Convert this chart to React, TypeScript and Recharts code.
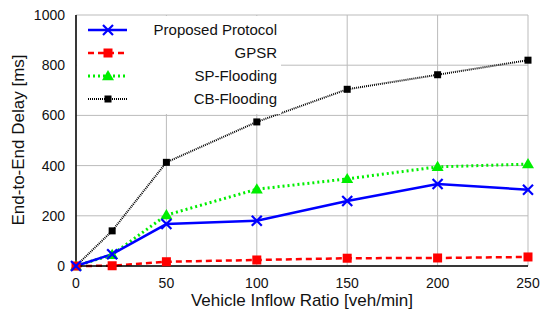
import { LineChart, Line, XAxis, YAxis, CartesianGrid } from 'recharts';

// Vehicle inflow ratio [veh/min]
const inflow = [0, 20, 50, 100, 150, 200, 250];
// End-to-end delay [ms]
const proposed = [0, 47, 167, 180, 259, 327, 304];
const gpsr = [0, 1, 17, 24, 31, 32, 36];
const spFlooding = [0, 45, 203, 306, 347, 395, 406];
const cbFlooding = [0, 140, 413, 574, 704, 762, 820];

const xTicks = [0, 50, 100, 150, 200, 250];
const yTicks = [0, 200, 400, 600, 800, 1000];

const data = inflow.map((x, i) => ({
  x,
  proposed: proposed[i],
  gpsr: gpsr[i],
  sp: spFlooding[i],
  cb: cbFlooding[i],
}));

const font = '"Liberation Sans", Arial, Helvetica, sans-serif';

const CrossDot = (props: any) => {
  const { cx, cy } = props;
  if (cx == null || cy == null) return null;
  const s = 5;
  return (
    <g stroke="#0000ff" strokeWidth={2.2}>
      <line x1={cx - s} y1={cy - s} x2={cx + s} y2={cy + s} />
      <line x1={cx - s} y1={cy + s} x2={cx + s} y2={cy - s} />
    </g>
  );
};

const SquareDot = (color: string, s: number) => (props: any) => {
  const { cx, cy } = props;
  if (cx == null || cy == null) return null;
  return <rect x={cx - s} y={cy - s} width={2 * s} height={2 * s} fill={color} />;
};

const TriDot = (props: any) => {
  const { cx, cy } = props;
  if (cx == null || cy == null) return null;
  const s = 6;
  return <polygon points={`${cx},${cy - s} ${cx + s},${cy + s * 0.7} ${cx - s},${cy + s * 0.7}`} fill="#00ee00" />;
};

const legendRows = [
  { name: 'Proposed Protocol', color: '#0000ff', dash: undefined, width: 2.5, marker: 'x' },
  { name: 'GPSR', color: '#ff0000', dash: '6 4', width: 2.5, marker: 'sq' },
  { name: 'SP-Flooding', color: '#00ee00', dash: '2 3', width: 3, marker: 'tri' },
  { name: 'CB-Flooding', color: '#000000', dash: '1 1', width: 2, marker: 'sm' },
];

const LegendBox = () => (
  <svg width={204} height={98} style={{ display: 'block', background: '#fff' }}>
    {legendRows.map((r, i) => {
      const y = 14 + i * 23;
      const cx = 31;
      return (
        <g key={r.name}>
          <line x1={11} y1={y} x2={50} y2={y} stroke={r.color} strokeWidth={r.width} strokeDasharray={r.dash} />
          {r.marker === 'x' && CrossDot({ cx, cy: y })}
          {r.marker === 'sq' && SquareDot('#ff0000', 4.5)({ cx, cy: y })}
          {r.marker === 'tri' && TriDot({ cx, cy: y })}
          {r.marker === 'sm' && SquareDot('#000000', 3.5)({ cx, cy: y })}
          <text x={200} y={y + 5} textAnchor="end" fontSize={15} fontFamily={font} fill="#111">
            {r.name}
          </text>
        </g>
      );
    })}
  </svg>
);

const App = () => {
  return (
    <div style={{ position: 'absolute', left: 0, top: 0, width: 550, height: 320, background: '#fff' }}>
      <LineChart width={550} height={320} data={data} margin={{ top: 15, right: 22, left: 0, bottom: 0 }}>
        <CartesianGrid stroke="#bbbbbb" strokeWidth={1} />
        <XAxis
          dataKey="x"
          type="number"
          domain={[0, 250]}
          ticks={xTicks}
          height={54}
          tickLine={false}
          tickMargin={6}
          axisLine={{ stroke: '#000', strokeWidth: 1.5 }}
          tick={{ fontSize: 14, fill: '#111', fontFamily: font }}
          label={{ value: 'Vehicle Inflow Ratio [veh/min]', position: 'insideBottom', offset: 14, fontSize: 17, fill: '#111', fontFamily: font }}
        />
        <XAxis xAxisId="top" orientation="top" dataKey="x" type="number" domain={[0, 250]} height={0} tick={false} tickLine={false} axisLine={{ stroke: '#000', strokeWidth: 1 }} />
        <YAxis
          type="number"
          domain={[0, 1000]}
          ticks={yTicks}
          width={76}
          tickLine={false}
          tickMargin={5}
          axisLine={{ stroke: '#000', strokeWidth: 1.5 }}
          tick={{ fontSize: 14, fill: '#111', fontFamily: font }}
          label={{ value: 'End-to-End Delay [ms]', angle: -90, position: 'insideLeft', offset: 18, dy: 85, fontSize: 17, fill: '#111', fontFamily: font }}
        />
        <YAxis yAxisId="right" orientation="right" domain={[0, 1000]} width={0} tick={false} tickLine={false} axisLine={{ stroke: '#000', strokeWidth: 1 }} />
        <Line dataKey="cb" stroke="#000" strokeWidth={2} strokeDasharray="1 1" dot={SquareDot('#000000', 3.5)} isAnimationActive={false} />
        <Line dataKey="sp" stroke="#00ee00" strokeWidth={3} strokeDasharray="2 3" dot={TriDot} isAnimationActive={false} />
        <Line dataKey="gpsr" stroke="#ff0000" strokeWidth={2.5} strokeDasharray="6 4" dot={SquareDot('#ff0000', 4.5)} isAnimationActive={false} />
        <Line dataKey="proposed" stroke="#0000ff" strokeWidth={2.5} dot={CrossDot} isAnimationActive={false} />
      </LineChart>
      <div style={{ position: 'absolute', left: 77, top: 16 }}>
        <LegendBox />
      </div>
    </div>
  );
};

export default App;
